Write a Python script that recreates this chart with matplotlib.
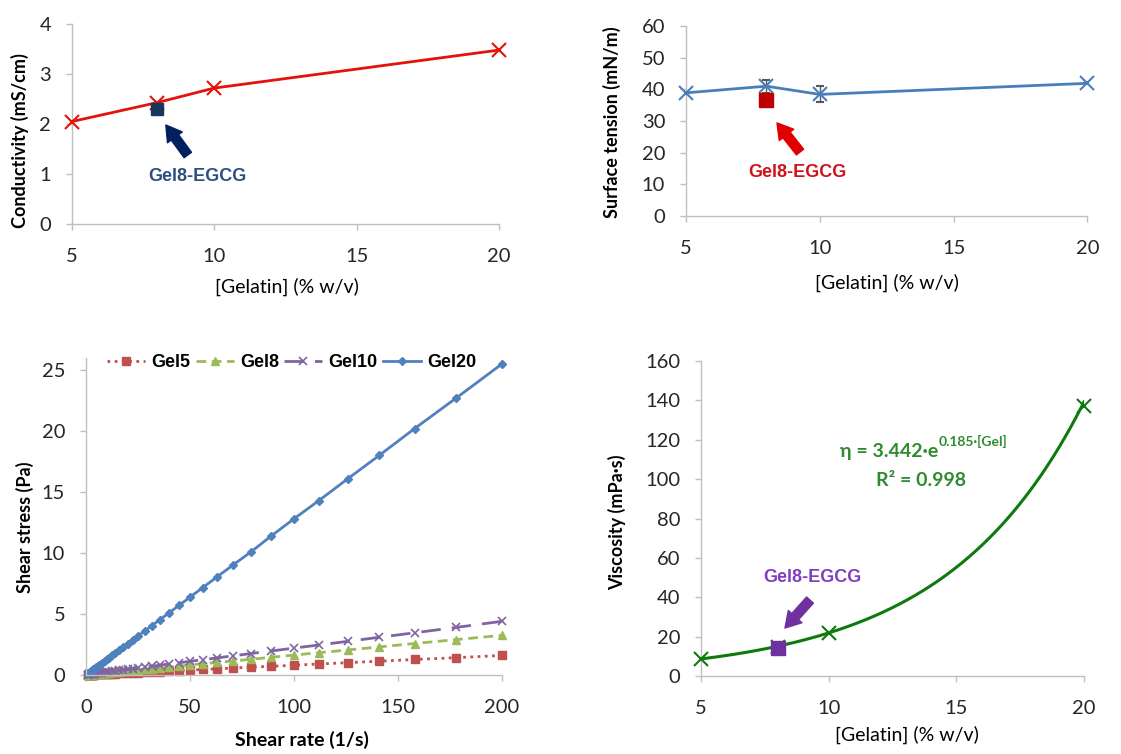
import matplotlib
matplotlib.use("Agg")
import matplotlib.pyplot as plt
import numpy as np

# ---------------- data ----------------
gelatin = [5, 8, 10, 20]
conductivity = [2.05, 2.43, 2.72, 3.48]
egcg_conductivity = 2.30

surface_tension = [38.9, 41.0, 38.4, 41.9]
surface_tension_err = [0.0, 2.0, 2.5, 0.0]
egcg_surface_tension = 36.6

viscosity = [8.5, 14.8, 22.0, 137.0]
egcg_viscosity = 14.2
fit_a, fit_b = 3.442, 0.185

shear_rate = [1.0, 1.12, 1.26, 1.41, 1.58, 1.78, 2.0, 2.24, 2.51, 2.82, 3.16, 3.55,
              3.98, 4.47, 5.01, 5.62, 6.31, 7.08, 7.94, 8.91, 10.0, 11.2, 12.6, 14.1,
              15.8, 17.8, 20.0, 22.4, 25.1, 28.2, 31.6, 35.5, 39.8, 44.7, 50.1, 56.2,
              63.1, 70.8, 79.4, 89.1, 100, 112, 126, 141, 158, 178, 200]
gel5 = [0.01, 0.01, 0.01, 0.01, 0.01, 0.01, 0.02, 0.02, 0.02, 0.02, 0.03, 0.03,
        0.03, 0.04, 0.04, 0.04, 0.05, 0.06, 0.06, 0.07, 0.08, 0.09, 0.10, 0.11,
        0.13, 0.14, 0.16, 0.18, 0.20, 0.23, 0.25, 0.28, 0.32, 0.36, 0.40, 0.45,
        0.50, 0.57, 0.64, 0.71, 0.80, 0.90, 1.01, 1.13, 1.27, 1.42, 1.60]
gel8 = [0.02, 0.02, 0.02, 0.02, 0.03, 0.03, 0.03, 0.04, 0.04, 0.05, 0.05, 0.06,
        0.06, 0.07, 0.08, 0.09, 0.10, 0.12, 0.13, 0.15, 0.16, 0.18, 0.21, 0.23,
        0.26, 0.29, 0.33, 0.37, 0.41, 0.46, 0.52, 0.58, 0.65, 0.73, 0.82, 0.92,
        1.03, 1.15, 1.29, 1.45, 1.63, 1.83, 2.05, 2.30, 2.58, 2.90, 3.25]
gel10 = [0.03, 0.03, 0.04, 0.04, 0.05, 0.05, 0.06, 0.06, 0.07, 0.08, 0.09, 0.10,
         0.11, 0.12, 0.13, 0.15, 0.16, 0.18, 0.20, 0.22, 0.25, 0.27, 0.30, 0.34,
         0.37, 0.42, 0.46, 0.52, 0.58, 0.64, 0.72, 0.80, 0.90, 1.00, 1.12, 1.25,
         1.40, 1.57, 1.76, 1.97, 2.20, 2.46, 2.76, 3.09, 3.46, 3.90, 4.40]
gel20 = [0.13, 0.14, 0.16, 0.18, 0.20, 0.23, 0.26, 0.29, 0.32, 0.36, 0.40, 0.45,
         0.51, 0.57, 0.64, 0.72, 0.80, 0.90, 1.01, 1.14, 1.28, 1.43, 1.61, 1.80,
         2.02, 2.27, 2.55, 2.86, 3.20, 3.60, 4.03, 4.53, 5.08, 5.70, 6.39, 7.17,
         8.05, 9.03, 10.1, 11.4, 12.8, 14.3, 16.1, 18.0, 20.2, 22.7, 25.5]
series_names = ["Gel5", "Gel8", "Gel10", "Gel20"]

# ---------------- style ----------------
plt.rcParams['font.family'] = ['Lato', 'DejaVu Sans']
SPINE = '#BFBFBF'
TICKC = '#262626'

fig = plt.figure(figsize=(11.21, 7.54), dpi=100)


def frame(ax):
    for s in ['top', 'right']:
        ax.spines[s].set_visible(False)
    for s in ['left', 'bottom']:
        ax.spines[s].set_color(SPINE)
        ax.spines[s].set_linewidth(1.0)
    ax.tick_params(axis='both', colors=SPINE, labelcolor=TICKC, labelsize=14.5,
                   direction='out', length=4, width=1)
    ax.tick_params(axis='y', pad=11)
    ax.tick_params(axis='x', pad=13)


def arrow(ax, tail, head, color):
    ax.annotate('', xy=head, xytext=tail,
                arrowprops=dict(arrowstyle='simple,head_length=0.5,head_width=0.6,tail_width=0.3',
                                color=color, mutation_scale=22, shrinkA=0, shrinkB=0))


# ---- top-left: conductivity ----
ax1 = fig.add_axes([0.0642, 0.703, 0.3808, 0.265])
frame(ax1)
ax1.plot(gelatin, conductivity, color='#E3120B', lw=2, marker='x', ms=10, mew=1.5,
         zorder=3, clip_on=False)
ax1.plot([gelatin[1]], [egcg_conductivity], 's', color='#17375E', ms=8, zorder=4)
ax1.set_xlim(5, 20)
ax1.set_ylim(0, 4)
ax1.set_xticks([5, 10, 15, 20])
ax1.set_yticks([0, 1, 2, 3, 4])
arrow(ax1, (9.07, 1.38), (8.30, 1.98), '#002060')
ax1.text(9.39, 0.94, 'Gel8-EGCG', color='#2B4F81', fontsize=13, fontweight='bold',
         family=['Liberation Sans'], ha='center', va='center')
ax1.set_ylabel('Conductivity (mS/cm)', fontsize=13, fontweight='bold')
ax1.set_xlabel('[Gelatin] (% w/v)', fontsize=14)
ax1.yaxis.set_label_coords(-0.122, 0.415)
ax1.xaxis.set_label_coords(0.503, -0.315)

# ---- top-right: surface tension ----
ax2 = fig.add_axes([0.612, 0.7135, 0.358, 0.252])
frame(ax2)
eb = ax2.errorbar(gelatin, surface_tension, yerr=surface_tension_err, color='#4A7EBB', lw=2,
                  marker='x', ms=10, mew=1.5, ecolor='#595959', elinewidth=1, capsize=3,
                  zorder=3)
eb[0].set_clip_on(False)
ax2.plot([gelatin[1]], [egcg_surface_tension], 's', color='#C00000', ms=9.5, zorder=4)
ax2.set_xlim(5, 20)
ax2.set_ylim(0, 60)
ax2.set_xticks([5, 10, 15, 20])
ax2.set_yticks(range(0, 61, 10))
arrow(ax2, (9.26, 20.2), (8.40, 29.4), '#E00000')
ax2.text(9.15, 13.6, 'Gel8-EGCG', color='#D0121B', fontsize=13, fontweight='bold',
         family=['Liberation Sans'], ha='center', va='center')
ax2.set_ylabel('Surface tension (mN/m)', fontsize=13, fontweight='bold')
ax2.set_xlabel('[Gelatin] (% w/v)', fontsize=14)
ax2.yaxis.set_label_coords(-0.185, 0.492)
ax2.xaxis.set_label_coords(0.501, -0.353)

# ---- bottom-left: flow curves ----
ax3 = fig.add_axes([0.0767, 0.1048, 0.3711, 0.4207])
frame(ax3)
styles = [
    dict(color='#C0504D', ls=(0, (1, 1.6)), marker='s', ms=6),
    dict(color='#9BBB59', ls=(0, (3.5, 2)), marker='^', ms=6),
    dict(color='#8064A2', ls=(0, (7, 4)), marker='x', ms=6, mew=1.2),
    dict(color='#4F81BD', ls='-', marker='D', ms=4),
]
for name, vals, st in zip(series_names, [gel5, gel8, gel10, gel20], styles):
    ax3.plot(shear_rate, vals, lw=2, label=name, clip_on=False, **st)
ax3.set_xlim(0, 200)
ax3.set_ylim(0, 26)
ax3.set_xticks([0, 50, 100, 150, 200])
ax3.set_yticks([0, 5, 10, 15, 20, 25])
leg = ax3.legend(loc='center', bbox_to_anchor=(0.495, 0.984), ncol=4, frameon=False,
                 handlelength=2.1, handletextpad=0.35, columnspacing=0.3, numpoints=1,
                 prop=dict(family='Liberation Sans', weight='bold', size=13))
ax3.set_ylabel('Shear stress (Pa)', fontsize=13, fontweight='bold')
ax3.set_xlabel('Shear rate (1/s)', fontsize=14, fontweight='bold')
ax3.yaxis.set_label_coords(-0.147, 0.467)
ax3.xaxis.set_label_coords(0.519, -0.205)

# ---- bottom-right: viscosity ----
ax4 = fig.add_axes([0.6253, 0.1034, 0.3417, 0.4178])
frame(ax4)
xf = np.linspace(5, 20, 200)
ax4.plot(xf, fit_a * np.exp(fit_b * xf), color='#0E7A0E', lw=2.2, zorder=2)
ax4.plot(gelatin, viscosity, 'x', color='#0E7A0E', ms=10, mew=1.5, zorder=3, clip_on=False)
ax4.plot([gelatin[1]], [egcg_viscosity], 's', color='#7030A0', ms=10, zorder=4)
ax4.set_xlim(5, 20)
ax4.set_ylim(0, 160)
ax4.set_xticks([5, 10, 15, 20])
ax4.set_yticks(range(0, 161, 20))
arrow(ax4, (9.27, 38.6), (8.29, 24.4), '#7030A0')
ax4.text(9.35, 49.8, 'Gel8-EGCG', color='#7F3FBF', fontsize=13, fontweight='bold',
         family=['Liberation Sans'], ha='center', va='center')
ax4.text(14.28, 113.8, 'η = 3.442·e', color='#2E8B2E', fontsize=14, fontweight='bold',
         ha='right', va='center')
ax4.text(14.30, 116.0, '0.185·[Gel]', color='#2E8B2E', fontsize=10, fontweight='bold',
         ha='left', va='bottom')
ax4.text(13.62, 99.5, 'R² = 0.998', color='#2E8B2E', fontsize=14, fontweight='bold',
         ha='center', va='center')
ax4.set_ylabel('Viscosity (mPa·s)', fontsize=13, fontweight='bold')
ax4.set_xlabel('[Gelatin] (% w/v)', fontsize=14)
ax4.yaxis.set_label_coords(-0.219, 0.489)
ax4.xaxis.set_label_coords(0.538, -0.187)

for ax in (ax1, ax2, ax3, ax4):
    ax.xaxis.label.set_verticalalignment('center')
    ax.yaxis.label.set_verticalalignment('center')

fig.savefig('out.png', dpi=100)
